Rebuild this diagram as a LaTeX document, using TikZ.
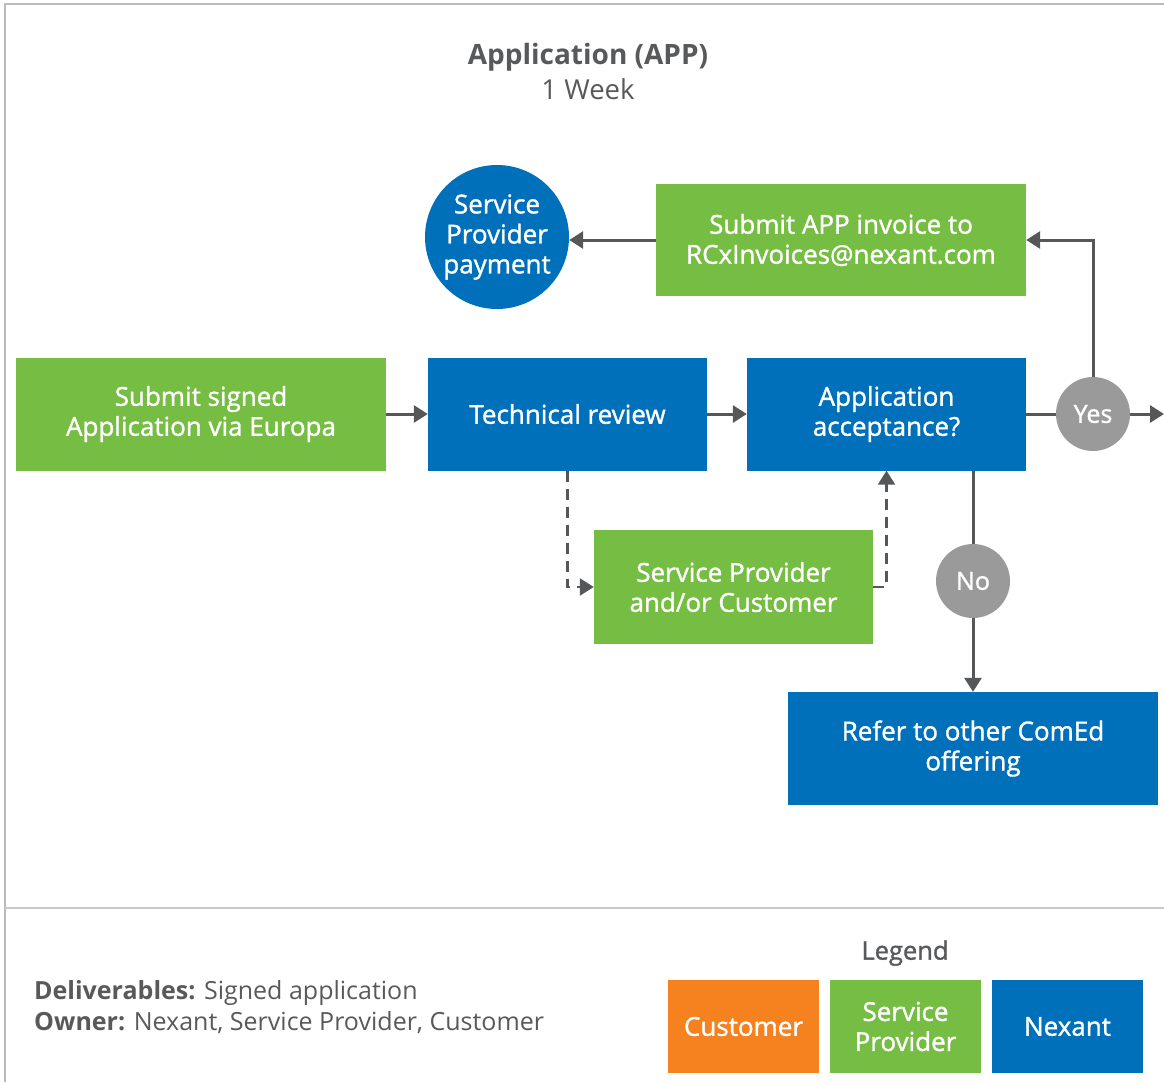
\documentclass[tikz,border=0pt]{standalone}
\usepackage{fontspec}
\setmainfont{Open Sans}
\newfontfamily\boxfont[FakeBold=1.3]{Open Sans}
\usetikzlibrary{arrows.meta}
\definecolor{cgreen}{HTML}{76BD43}
\definecolor{cblue}{HTML}{0070BA}
\definecolor{corange}{HTML}{F5821F}
\definecolor{cgray}{HTML}{9A9A9A}
\definecolor{cline}{HTML}{555759}
\definecolor{ctext}{HTML}{58595B}
\definecolor{cframe}{HTML}{BBBBBB}
\tikzset{
  box/.style={rectangle, inner sep=0pt, text=white, align=center,
    font=\boxfont\fontsize{26}{30}\selectfont},
  gbox/.style={box, fill=cgreen},
  bbox/.style={box, fill=cblue},
  obox/.style={box, fill=corange},
  decision/.style={circle, fill=cgray, text=white, inner sep=0pt,
    minimum size=74pt, font=\boxfont\fontsize{25}{30}\selectfont},
  conn/.style={draw=cline, line width=3pt,
    -{Triangle[length=14pt,width=17pt]}},
  plain/.style={draw=cline, line width=3pt},
  dconn/.style={draw=cline, line width=2.3pt, dash pattern=on 11pt off 7pt,
    -{Triangle[length=14pt,width=17pt]}},
}
\begin{document}
\begin{tikzpicture}[x=1pt,y=-1pt]
\useasboundingbox (0,0) rectangle (1164,1082);
% frame
\draw[cframe, line width=2pt] (5,1082) -- (5,4) -- (1164,4);
\draw[cframe!80, line width=2pt] (5,908) -- (1164,908);
% title
\node[text=ctext, font=\bfseries\fontsize{28}{32}\selectfont] (title) at (588,57) {Application (APP)};
\node[text=ctext, font=\fontsize{27.5}{32}\selectfont] (week) at (588,89) {1 Week};
% nodes
\node[circle, fill=cblue, text=white, inner sep=0pt, minimum size=144pt, align=center,
  font=\boxfont\fontsize{26}{30}\selectfont] (pay) at (497,237) {Service\\Provider\\payment};
\node[gbox, minimum width=370pt, minimum height=112pt] (invoice) at (841,240) {Submit APP invoice to\\RCxInvoices@nexant.com};
\node[gbox, minimum width=370pt, minimum height=113pt] (submit) at (201,414) {Submit signed\\Application via Europa};
\node[bbox, minimum width=279pt, minimum height=113pt] (tech) at (567.5,414) {Technical review};
\node[bbox, minimum width=279pt, minimum height=113pt] (accept) at (886.5,414) {Application\\acceptance?};
\node[decision] (yes) at (1093,414) {Yes};
\node[decision] (no) at (973,581) {No};
\node[gbox, minimum width=279pt, minimum height=114pt] (spc) at (733.5,587) {Service Provider\\and/or Customer};
\node[bbox, minimum width=370pt, minimum height=113pt] (refer) at (973,748.5) {Refer to other ComEd\\offering};
\coordinate (rightend) at (1164,414);
% connectors
\draw[conn] (submit.east) -- (tech.west);
\draw[conn] (tech.east) -- (accept.west);
\draw[plain] (accept.east) -- (yes.west);
\draw[conn] (yes.east) -- (rightend);
\draw[conn] (yes.north) |- (invoice.east);
\draw[conn] (invoice.west) -- (invoice.west -| pay.east);
\draw[plain] (accept.south -| no.north) -- (no.north);
\draw[conn] (no.south) -- (refer.north -| no.south);
\draw[dconn] (tech.south) |- (spc.west);
\draw[dconn] (spc.east) -| (accept.south);
% bottom
\node[anchor=west, inner sep=0pt, text=ctext, font=\fontsize{25}{30}\selectfont] (deliv) at (34,993) {\textbf{Deliverables:} Signed application};
\node[anchor=west, inner sep=0pt, text=ctext, font=\fontsize{25}{30}\selectfont] (owner) at (34,1023) {\textbf{Owner:} Nexant, Service Provider, Customer};
\node[text=ctext, font=\boxfont\fontsize{25.5}{30}\selectfont] (legend) at (905,953) {Legend};
\node[obox, minimum width=151pt, minimum height=93pt] (lcust) at (743.5,1026.5) {Customer};
\node[gbox, minimum width=151pt, minimum height=93pt] (lsp) at (905.5,1026.5) {Service\\Provider};
\node[bbox, minimum width=151pt, minimum height=93pt] (lnex) at (1067.5,1026.5) {Nexant};
\end{tikzpicture}
\end{document}
